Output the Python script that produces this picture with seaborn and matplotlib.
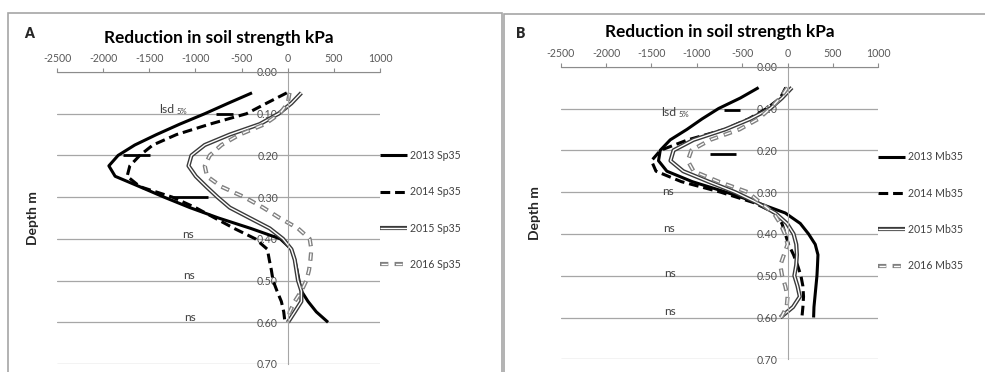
import matplotlib
matplotlib.use("Agg")
import numpy as np
import pandas as pd
import matplotlib.pyplot as plt
import seaborn as sns
from matplotlib.lines import Line2D
from matplotlib.patches import Rectangle
from matplotlib.legend_handler import HandlerTuple

# ---------------- data ----------------
depth = [0.05, 0.075, 0.10, 0.125, 0.15, 0.175, 0.20, 0.225, 0.25, 0.275, 0.30, 0.325,
         0.35, 0.375, 0.40, 0.425, 0.45, 0.475, 0.50, 0.525, 0.55, 0.575, 0.60]

# Panel A (Sp35)
sp35_2013 = [-387, -646, -899, -1170, -1422, -1657, -1838, -1938, -1870, -1603, -1340, -1061,
             -750, -400, -80, 40, 76, 101, 123, 148, 220, 310, 437]
sp35_2014 = [-10, -231, -447, -845, -1205, -1461, -1603, -1711, -1740, -1600, -1250, -1000,
             -790, -580, -350, -220, -200, -177, -159, -116, -69, -43, -30]
sp35_2015 = [148, 40, -100, -303, -628, -899, -1043, -1075, -996, -881, -760, -628,
             -412, -195, -51, 40, 76, 94, 112, 148, 148, 76, 3]
sp35_2016 = [20, 0, -87, -249, -520, -718, -845, -899, -874, -718, -470, -267,
             -87, 112, 238, 256, 246, 231, 202, 148, 76, 22, 3]

# Panel B (Mb35)
mb35_2013 = [-319, -521, -760, -943, -1109, -1293, -1403, -1422, -1330, -1050, -680, -338,
             -25, 140, 231, 305, 335, 330, 324, 313, 302, 291, 287]
mb35_2014 = [-20, -80, -230, -430, -690, -1100, -1400, -1500, -1450, -1170, -740, -375,
             -136, -62, -25, 11, 66, 110, 147, 169, 176, 169, 158]
mb35_2015 = [48, -62, -191, -411, -687, -1036, -1256, -1290, -1150, -870, -580, -338,
             -136, -7, 66, 96, 103, 95, 75, 110, 135, 60, -80]
mb35_2016 = [0, -80, -191, -323, -530, -852, -1060, -1100, -1036, -760, -440, -301,
             -154, -80, -30, 0, -40, -80, -60, -25, 0, -10, -70]

labels_A = ["2013 Sp35", "2014 Sp35", "2015 Sp35", "2016 Sp35"]
labels_B = ["2013 Mb35", "2014 Mb35", "2015 Mb35", "2016 Mb35"]

# lsd bars (depth, left, right)
lsdA_depth = [0.10, 0.20, 0.30]
lsdA_left = [-772, -1784, -1242]
lsdA_right = [-592, -1495, -863]
lsdB_depth = [0.104, 0.21]
lsdB_left = [-705, -852]
lsdB_right = [-521, -565]

# ns labels (x centre, depth)
nsA_x = [-1080, -1070, -1060]
nsA_depth = [0.39, 0.487, 0.588]
nsB_x = [-1320, -1310, -1300, -1290]
nsB_depth = [0.299, 0.387, 0.495, 0.586]

xticks = [-2500, -2000, -1500, -1000, -500, 0, 500, 1000]
xtick_labels = ["-2500", "-2000", "-1500", "-1000", "-500", "0", "500", "1000"]
yticks = [0.0, 0.1, 0.2, 0.3, 0.4, 0.5, 0.6, 0.7]
ytick_labels = ["0.00", "0.10", "0.20", "0.30", "0.40", "0.50", "0.60", "0.70"]

title = "Reduction in soil strength kPa"
ylabel = "Depth m"

# ---------------- style ----------------
sns.set_style("white")
plt.rcParams['font.family'] = ['Lato', 'DejaVu Sans']
plt.rcParams['axes.unicode_minus'] = False
plt.rcParams['lines.scale_dashes'] = False

GRID = '#a6a6a6'
TXT = '#595959'

styles = [
    [dict(color='black', lw=2.2, ls='-')],
    [dict(color='black', lw=2.2, ls=(0, (7, 3.5)))],
    [dict(color='#3a3a3a', lw=3.0, ls='-'), dict(color='white', lw=1.0, ls='-')],
    [dict(color='#808080', lw=3.0, ls=(0, (6, 4.5))),
     dict(color='white', lw=1.0, ls=(9.8, (4.6, 5.9)))],
]

fig = plt.figure(figsize=(9.85, 3.72), dpi=100)
W, H = 985.0, 372.0
axA = fig.add_axes([57 / W, 1 - 364 / H, 323 / W, 292 / H])
axB = fig.add_axes([560.7 / W, 1 - 359.3 / H, 317.6 / W, 292.6 / H])


def draw_panel(ax, series, labels, lsd_d, lsd_l, lsd_r, ns_x, ns_d, lsd_pos, leg_y):
    handles = []
    for vals, st in zip(series, styles):
        df = pd.DataFrame({'v': vals, 'd': depth})
        hs = []
        for k in st:
            sns.lineplot(data=df, x='v', y='d', ax=ax, orient='y', sort=False,
                         estimator=None, color=k['color'], lw=k['lw'], linestyle=k['ls'],
                         solid_capstyle='butt', dash_capstyle='butt', solid_joinstyle='round')
            hs.append(Line2D([], [], color=k['color'], lw=k['lw'], ls=k['ls'],
                             solid_capstyle='butt', dash_capstyle='butt'))
        handles.append(tuple(hs) if len(hs) > 1 else hs[0])
    ax.set_xlabel('')
    ax.set_ylabel('')

    ax.set_xlim(-2500, 1000)
    ax.set_ylim(0.70, 0.0)
    ax.set_xticks(xticks, labels=xtick_labels)
    ax.set_yticks(yticks, labels=ytick_labels, fontweight='bold')
    ax.xaxis.tick_top()
    ax.tick_params(axis='x', top=True, bottom=False, direction='out', length=3,
                   width=0.8, color='#8c8c8c', labelsize=7.6, labelcolor=TXT, pad=2.5)
    ax.tick_params(axis='y', left=False, right=False, length=0, labelsize=7.6,
                   labelcolor='#505050', pad=7)
    for s in ['right', 'bottom']:
        ax.spines[s].set_visible(False)
    ax.spines['top'].set_color('#8c8c8c')
    ax.spines['top'].set_linewidth(0.8)
    ax.spines['left'].set_position(('data', 0))
    ax.spines['left'].set_color(GRID)
    ax.spines['left'].set_linewidth(0.8)
    ax.grid(axis='y', color=GRID, lw=0.9)
    ax.grid(axis='x', visible=False)
    ax.set_axisbelow(True)
    ax.set_facecolor('none')

    ax.hlines(lsd_d, lsd_l, lsd_r, colors='black', lw=2.0)
    for x, d in zip(ns_x, ns_d):
        ax.text(x, d, 'ns', ha='center', va='center', fontsize=8.6, color='#404040')
    t = ax.text(lsd_pos[0], lsd_pos[1], 'lsd', ha='left', va='baseline', fontsize=8.8,
                color='#404040')
    ax.annotate('5%', xy=(1, 0), xycoords=t, xytext=(1.5, 0), textcoords='offset points',
                ha='left', va='bottom', fontsize=5.5, color='#404040')

    ax.text(0.5, 1.118, title, transform=ax.transAxes, ha='center', va='center',
            fontsize=12.4, fontweight='bold', color='black')

    ax.legend(handles, labels, loc='center left', bbox_to_anchor=(1.0, leg_y),
              frameon=False, fontsize=7.6, handlelength=2.55, handletextpad=0.25,
              labelspacing=2.4, borderpad=0, borderaxespad=0, labelcolor='#404040',
              handler_map={tuple: HandlerTuple(ndivide=1)})


draw_panel(axA, [sp35_2013, sp35_2014, sp35_2015, sp35_2016], labels_A,
           lsdA_depth, lsdA_left, lsdA_right, nsA_x, nsA_depth, (-1393, 0.098), 0.527)
draw_panel(axB, [mb35_2013, mb35_2014, mb35_2015, mb35_2016], labels_B,
           lsdB_depth, lsdB_left, lsdB_right, nsB_x, nsB_depth, (-1395, 0.118), 0.506)

# panel frames
fig.add_artist(Rectangle((8 / W, -0.05), (502 - 8) / W, 1.05 - 13 / H, transform=fig.transFigure,
                         fill=False, ec='#a6a6a6', lw=1.2))
fig.add_artist(Rectangle((503.5 / W, -0.05), 0.6, 1.05 - 14 / H, transform=fig.transFigure,
                         fill=False, ec='#a6a6a6', lw=1.2))

fig.text(29 / W, 1 - 33 / H, 'A', ha='center', va='center', fontsize=10, fontweight='heavy')
fig.text(520.7 / W, 1 - 33 / H, 'B', ha='center', va='center', fontsize=10, fontweight='heavy')
fig.text(33 / W, 1 - 218 / H, ylabel, rotation=90, ha='center', va='center', fontsize=10,
         fontweight='bold')
fig.text(535 / W, 1 - 213 / H, ylabel, rotation=90, ha='center', va='center', fontsize=10,
         fontweight='bold')

fig.savefig('out.png', dpi=100)
